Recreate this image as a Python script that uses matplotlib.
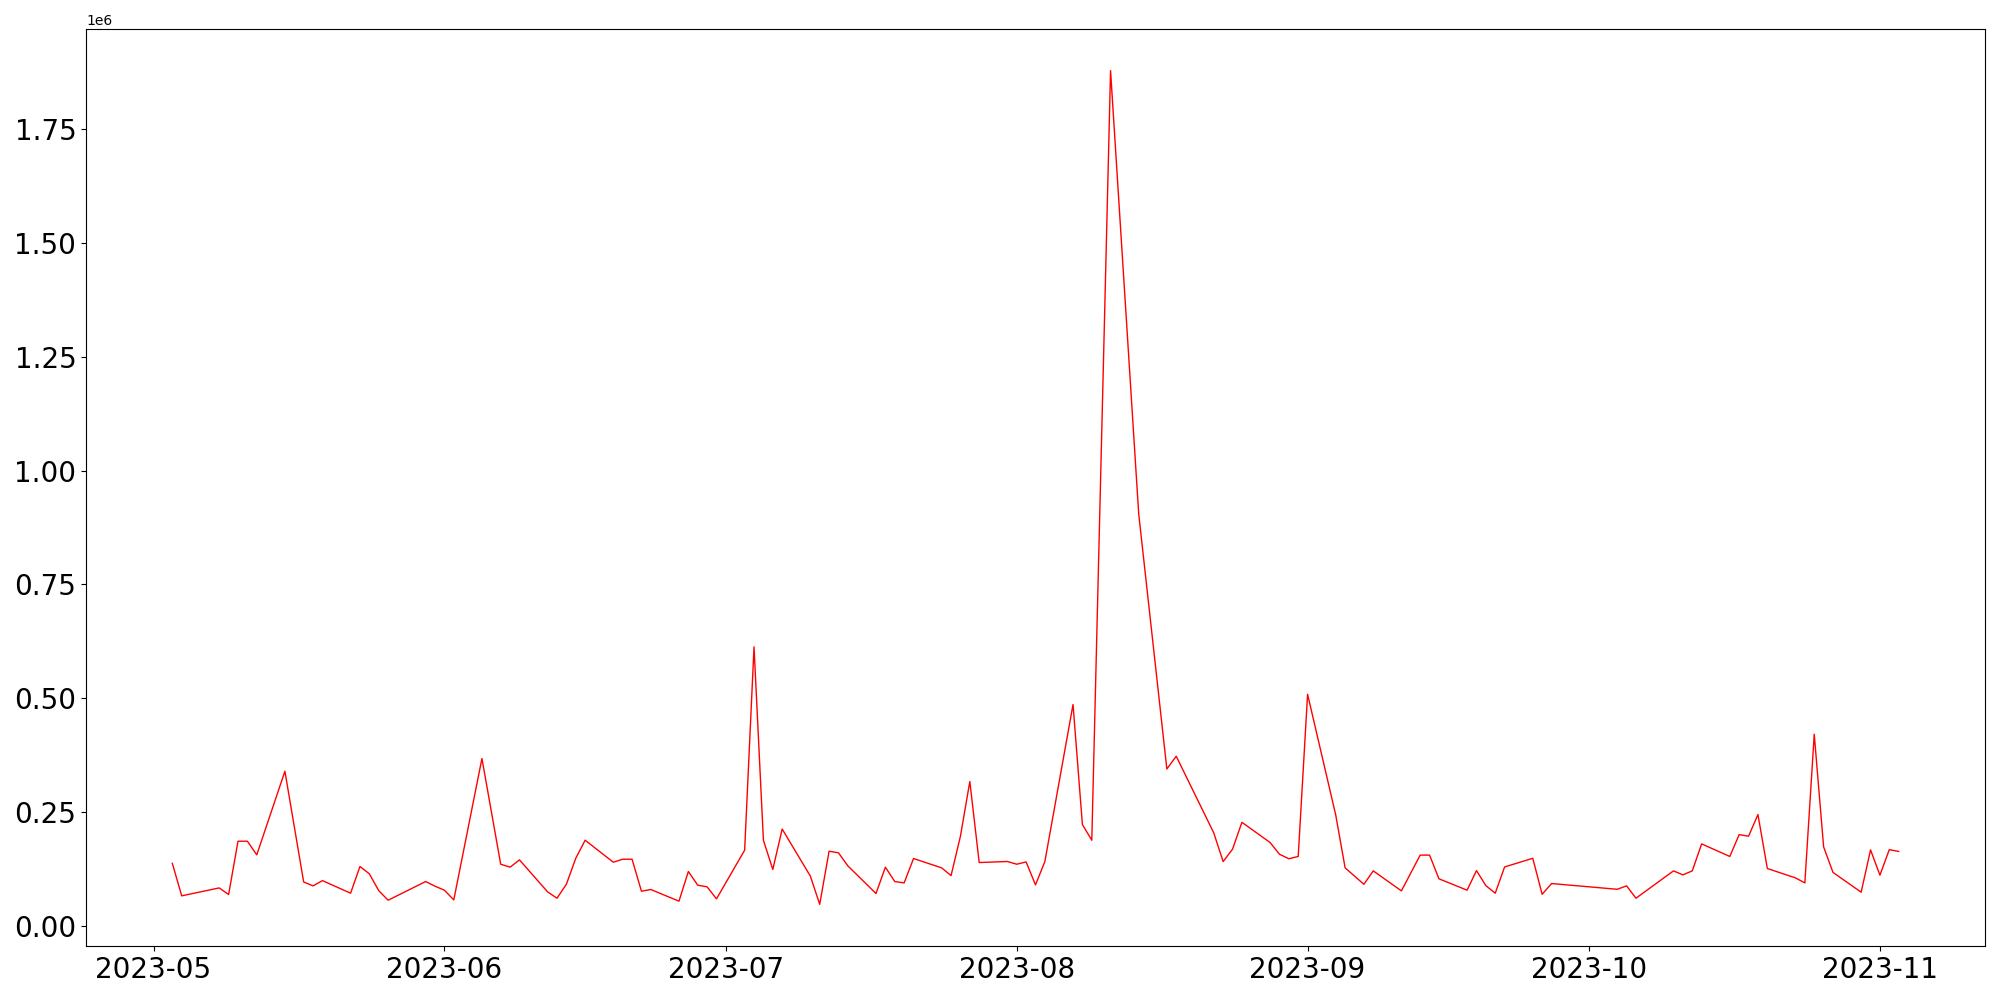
import numpy as np
import pandas as pd
import matplotlib
matplotlib.use("Agg")
import matplotlib.pyplot as plt

dates = [
    "2023-05-03", "2023-05-04", "2023-05-08", "2023-05-09", "2023-05-10", "2023-05-11",
    "2023-05-12", "2023-05-15", "2023-05-17", "2023-05-18", "2023-05-19", "2023-05-22",
    "2023-05-23", "2023-05-24", "2023-05-25", "2023-05-26", "2023-05-30", "2023-05-31",
    "2023-06-01", "2023-06-02", "2023-06-05", "2023-06-07", "2023-06-08", "2023-06-09",
    "2023-06-12", "2023-06-13", "2023-06-14", "2023-06-15", "2023-06-16", "2023-06-19",
    "2023-06-20", "2023-06-21", "2023-06-22", "2023-06-23", "2023-06-26", "2023-06-27",
    "2023-06-28", "2023-06-29", "2023-06-30", "2023-07-03", "2023-07-04", "2023-07-05",
    "2023-07-06", "2023-07-07", "2023-07-10", "2023-07-11", "2023-07-12", "2023-07-13",
    "2023-07-14", "2023-07-17", "2023-07-18", "2023-07-19", "2023-07-20", "2023-07-21",
    "2023-07-24", "2023-07-25", "2023-07-26", "2023-07-27", "2023-07-28", "2023-07-31",
    "2023-08-01", "2023-08-02", "2023-08-03", "2023-08-04", "2023-08-07", "2023-08-08",
    "2023-08-09", "2023-08-11", "2023-08-14", "2023-08-17", "2023-08-18", "2023-08-22",
    "2023-08-23", "2023-08-24", "2023-08-25", "2023-08-28", "2023-08-29", "2023-08-30",
    "2023-08-31", "2023-09-01", "2023-09-04", "2023-09-05", "2023-09-07", "2023-09-08",
    "2023-09-11", "2023-09-13", "2023-09-14", "2023-09-15", "2023-09-18", "2023-09-19",
    "2023-09-20", "2023-09-21", "2023-09-22", "2023-09-25", "2023-09-26", "2023-09-27",
    "2023-10-04", "2023-10-05", "2023-10-06", "2023-10-10", "2023-10-11", "2023-10-12",
    "2023-10-13", "2023-10-16", "2023-10-17", "2023-10-18", "2023-10-19", "2023-10-20",
    "2023-10-23", "2023-10-24", "2023-10-25", "2023-10-26", "2023-10-27", "2023-10-30",
    "2023-10-31", "2023-11-01", "2023-11-02", "2023-11-03",
]

# values in millions
values_m = [
    0.138, 0.0666, 0.084, 0.0695, 0.1865, 0.1865,
    0.1565, 0.340, 0.097, 0.0885, 0.100, 0.0724,
    0.131, 0.115, 0.078, 0.057, 0.098, 0.0878,
    0.079, 0.0577, 0.368, 0.136, 0.1295, 0.1455,
    0.0753, 0.0614, 0.092, 0.149, 0.1887, 0.1404,
    0.147, 0.147, 0.0768, 0.0805, 0.0549, 0.120,
    0.090, 0.0863, 0.060, 0.1668, 0.613, 0.1887,
    0.1244, 0.2132, 0.110, 0.048, 0.1646, 0.161,
    0.1324, 0.0717, 0.1295, 0.098, 0.095, 0.1485,
    0.128, 0.111, 0.1975, 0.3175, 0.1397, 0.142,
    0.136, 0.141, 0.0907, 0.142, 0.4865, 0.223,
    0.1887, 1.8776, 0.905, 0.345, 0.373, 0.2047,
    0.1418, 0.169, 0.228, 0.1837, 0.158, 0.148,
    0.153, 0.509, 0.244, 0.128, 0.092, 0.1214,
    0.0775, 0.156, 0.156, 0.104, 0.079, 0.122,
    0.089, 0.0724, 0.130, 0.149, 0.070, 0.0936,
    0.081, 0.0885, 0.0614, 0.1214, 0.1126, 0.1214,
    0.1806, 0.153, 0.201, 0.1975, 0.245, 0.1266,
    0.106, 0.095, 0.4213, 0.174, 0.118, 0.0746,
    0.1675, 0.112, 0.168, 0.164,
]

x = pd.to_datetime(dates)
y = np.array(values_m) * 1e6

fig, ax = plt.subplots(figsize=(20, 10), dpi=100)
ax.plot(x, y, color='red', linewidth=1)

plt.xticks(fontsize=20)
plt.yticks(fontsize=20)

fig.subplots_adjust(left=0.043, right=0.9925, top=0.971, bottom=0.054)
fig.savefig("out.png", dpi=100)
